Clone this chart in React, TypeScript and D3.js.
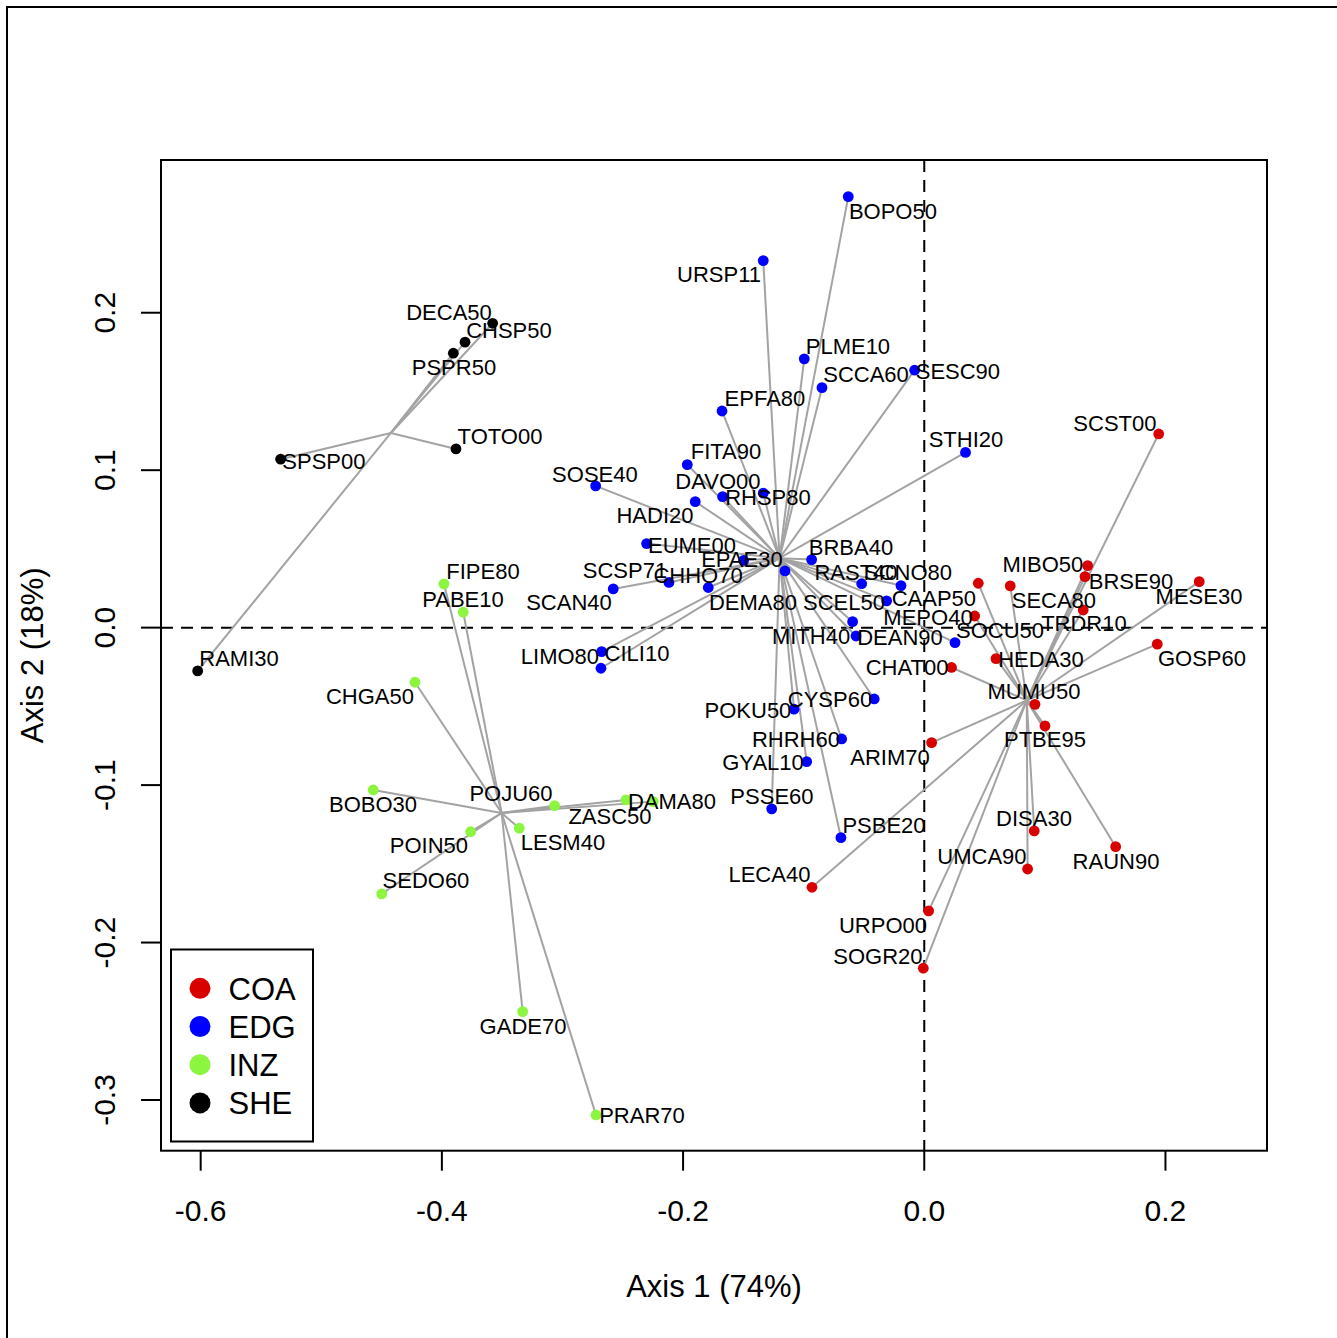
import React from "react";
import * as d3 from "d3";

const groups = ["COA", "EDG", "INZ", "SHE"];
const groupColors = ["#D90000", "#0000FF", "#8BF53F", "#000000"];

const sampleNames = [
  // COA
  "SCST00", "MIBO50", "BRSE90", "MESE30", "CAAP50", "SECA80", "TRDR10", "MEPO40", "GOSP60", "HEDA30",
  "CHAT00", "MUMU50", "PTBE95", "ARIM70", "DISA30", "UMCA90", "RAUN90", "URPO00", "SOGR20", "LECA40",
  // EDG
  "BOPO50", "URSP11", "PLME10", "SCCA60", "SESC90", "EPFA80", "STHI20", "FITA90", "SOSE40", "HADI20",
  "RHSP80", "DAVO00", "EUME00", "CHHO70", "EPAE30", "BRBA40", "RAST40", "SCNO80", "SCSP71", "SCAN40",
  "DEMA80", "SCEL50", "MITH40", "DEAN90", "SOCU50", "CILI10", "LIMO80", "CYSP60", "POKU50", "RHRH60",
  "GYAL10", "PSSE60", "PSBE20",
  // INZ
  "FIPE80", "PABE10", "CHGA50", "BOBO30", "POJU60", "ZASC50", "DAMA80", "POIN50", "LESM40", "SEDO60",
  "GADE70", "PRAR70",
  // SHE
  "DECA50", "CHSP50", "PSPR50", "SPSP00", "TOTO00", "RAMI30",
];

const sampleGroup = [
  ...Array(20).fill("COA"),
  ...Array(33).fill("EDG"),
  ...Array(12).fill("INZ"),
  ...Array(6).fill("SHE"),
];

const axis1 = [
  0.1944, 0.1355, 0.1333, 0.228, 0.0448, 0.0713, 0.1318, 0.0418, 0.1932, 0.0595,
  0.0226, 0.0918, 0.1001, 0.0061, 0.0912, 0.0857, 0.1587, 0.0036, -0.0008, -0.0931,
  -0.063, -0.1335, -0.0995, -0.0848, -0.008, -0.1677, 0.0342, -0.1965, -0.2725, -0.1899,
  -0.1672, -0.1335, -0.2302, -0.1498, -0.1155, -0.0934, -0.0519, -0.0193, -0.2117, -0.2579,
  -0.1791, -0.0312, -0.0594, -0.0566, 0.0255, -0.2675, -0.2681, -0.0415, -0.108, -0.0685,
  -0.0975, -0.1265, -0.0691,
  -0.3983, -0.3823, -0.4223, -0.4569, -0.3065, -0.2247, -0.2473, -0.3761, -0.3358, -0.4499,
  -0.333, -0.2722,
  -0.3579, -0.3808, -0.3905, -0.5337, -0.3883, -0.6025,
];

const axis2 = [
  0.123, 0.0394, 0.0324, 0.0292, 0.0282, 0.0265, 0.0112, 0.0074, -0.0105, -0.0197,
  -0.0253, -0.0487, -0.0624, -0.073, -0.1291, -0.1533, -0.1391, -0.1799, -0.2163, -0.1649,
  0.2737, 0.2331, 0.1707, 0.1524, 0.1635, 0.1376, 0.1113, 0.1035, 0.09, 0.08,
  0.0832, 0.0854, 0.0534, 0.0427, 0.036, 0.0432, 0.0279, 0.0267, 0.0287, 0.0246,
  0.0255, 0.017, 0.0038, -0.0053, -0.0095, -0.0152, -0.0258, -0.0453, -0.0518, -0.0707,
  -0.0851, -0.1151, -0.1334,
  0.0278, 0.0098, -0.0347, -0.1031, -0.1131, -0.1105, -0.1094, -0.1296, -0.1274, -0.1691,
  -0.2439, -0.3095,
  0.1933, 0.1813, 0.1743, 0.107, 0.1135, -0.0275,
];

const labelAxis1 = [
  0.1581, 0.0984, 0.1714, 0.2278, 0.008, 0.1075, 0.1324, 0.0031, 0.2303, 0.0968,
  -0.0143, 0.091, 0.1001, -0.0284, 0.091, 0.0478, 0.159, -0.0342, -0.0384, -0.1284,
  -0.026, -0.1702, -0.0633, -0.0483, 0.0279, -0.1321, 0.0346, -0.1644, -0.2731, -0.2233,
  -0.1296, -0.1711, -0.1926, -0.1876, -0.1512, -0.0608, -0.0566, -0.0135, -0.2482, -0.2946,
  -0.142, -0.0666, -0.0939, -0.0201, 0.0628, -0.2382, -0.3021, -0.0782, -0.1462, -0.1064,
  -0.1337, -0.1263, -0.0334,
  -0.3659, -0.3825, -0.4596, -0.4571, -0.3427, -0.2606, -0.2092, -0.4107, -0.2996, -0.4132,
  -0.3327, -0.2341,
  -0.3941, -0.3444, -0.39, -0.4978, -0.3518, -0.5682,
];

const labelAxis2 = [
  0.1302, 0.0403, 0.0297, 0.0201, 0.0187, 0.0176, 0.0028, 0.0066, -0.0194, -0.0197,
  -0.0252, -0.0406, -0.0709, -0.0823, -0.1207, -0.145, -0.1486, -0.1888, -0.2085, -0.1566,
  0.2647, 0.2245, 0.1791, 0.1609, 0.1632, 0.1457, 0.1197, 0.1118, 0.0976, 0.0716,
  0.0828, 0.0932, 0.0525, 0.0335, 0.0436, 0.0511, 0.0352, 0.0352, 0.0366, 0.0159,
  0.0165, 0.0165, -0.0053, -0.0061, -0.0015, -0.0163, -0.0178, -0.0453, -0.0523, -0.0709,
  -0.0855, -0.1069, -0.1253,
  0.036, 0.0182, -0.0438, -0.112, -0.1052, -0.1196, -0.1101, -0.138, -0.1363, -0.1602,
  -0.253, -0.3095,
  0.2005, 0.1891, 0.1656, 0.1059, 0.1218, -0.0192,
];

const xTicks = [-0.6, -0.4, -0.2, 0.0, 0.2];
const yTicks = [-0.3, -0.2, -0.1, 0.0, 0.1, 0.2];
const xDomain = [-0.6329, 0.2842];
const yDomain = [-0.3322, 0.297];
const xTitle = "Axis 1 (74%)";
const yTitle = "Axis 2 (18%)";

const W = 1337;
const H = 1338;
const FONT = "'Liberation Sans', Arial, Helvetica, sans-serif";

export default function App() {
  const left = 161, right = 1267, top = 160, bottom = 1150.7;
  const x = d3.scaleLinear().domain(xDomain).range([left, right]);
  const y = d3.scaleLinear().domain(yDomain).range([bottom, top]);
  const color = d3.scaleOrdinal<string, string>().domain(groups).range(groupColors);

  const idx = d3.range(sampleNames.length);
  const centroids = new Map(
    groups.map((g) => {
      const members = idx.filter((i) => sampleGroup[i] === g);
      return [g, [d3.mean(members, (i) => axis1[i])!, d3.mean(members, (i) => axis2[i])!]];
    })
  );

  const fmt = (v: number) => v.toFixed(1);
  const labelFs = 22;

  return (
    <svg
      width={W}
      height={H}
      style={{ position: "absolute", left: 0, top: 0, background: "#fff" }}
      fontFamily={FONT}
    >
      <rect x={0} y={0} width={W} height={H} fill="#fff" />
      <rect x={7} y={7} width={W + 20} height={H + 20} fill="none" stroke="#000" strokeWidth={2} />

      {/* zero reference lines */}
      <line x1={x(0)} x2={x(0)} y1={top} y2={bottom} stroke="#000" strokeWidth={2} strokeDasharray="12,8" />
      <line x1={left} x2={right} y1={y(0)} y2={y(0)} stroke="#000" strokeWidth={2} strokeDasharray="12,8" />

      {/* spiders */}
      {idx.map((i) => {
        const c = centroids.get(sampleGroup[i])!;
        return (
          <line
            key={"s" + i}
            x1={x(c[0])}
            y1={y(c[1])}
            x2={x(axis1[i])}
            y2={y(axis2[i])}
            stroke="#A3A3A3"
            strokeWidth={2}
          />
        );
      })}

      {/* points */}
      {idx.map((i) => (
        <circle key={"p" + i} cx={x(axis1[i])} cy={y(axis2[i])} r={5.4} fill={color(sampleGroup[i])} />
      ))}

      {/* labels */}
      {idx.map((i) => (
        <text
          key={"l" + i}
          x={x(labelAxis1[i])}
          y={y(labelAxis2[i]) + labelFs * 0.358}
          fontSize={labelFs}
          textAnchor="middle"
          fill="#000"
        >
          {sampleNames[i]}
        </text>
      ))}

      {/* plot box */}
      <rect x={left} y={top} width={right - left} height={bottom - top} fill="none" stroke="#000" strokeWidth={2} />

      {/* x axis */}
      {xTicks.map((t) => (
        <g key={"xt" + t}>
          <line x1={x(t)} x2={x(t)} y1={bottom} y2={bottom + 20} stroke="#000" strokeWidth={2} />
          <text x={x(t)} y={1221} fontSize={30} textAnchor="middle">
            {fmt(t)}
          </text>
        </g>
      ))}
      <text x={(left + right) / 2} y={1296.5} fontSize={31} textAnchor="middle">
        {xTitle}
      </text>

      {/* y axis */}
      {yTicks.map((t) => (
        <g key={"yt" + t}>
          <line x1={left} x2={left - 20} y1={y(t)} y2={y(t)} stroke="#000" strokeWidth={2} />
          <text transform={`translate(115,${y(t)}) rotate(-90)`} fontSize={30} textAnchor="middle">
            {fmt(t)}
          </text>
        </g>
      ))}
      <text transform={`translate(43,${(top + bottom) / 2}) rotate(-90)`} fontSize={31} textAnchor="middle">
        {yTitle}
      </text>

      {/* legend */}
      <rect x={171} y={949.5} width={142} height={192} fill="#fff" stroke="#000" strokeWidth={2} />
      {groups.map((g, k) => {
        const cy = 988.3 + k * 38.2;
        return (
          <g key={"lg" + g}>
            <circle cx={200} cy={cy} r={10.5} fill={color(g)} />
            <text x={228.5} y={cy + 11.5} fontSize={31}>
              {g}
            </text>
          </g>
        );
      })}
    </svg>
  );
}
